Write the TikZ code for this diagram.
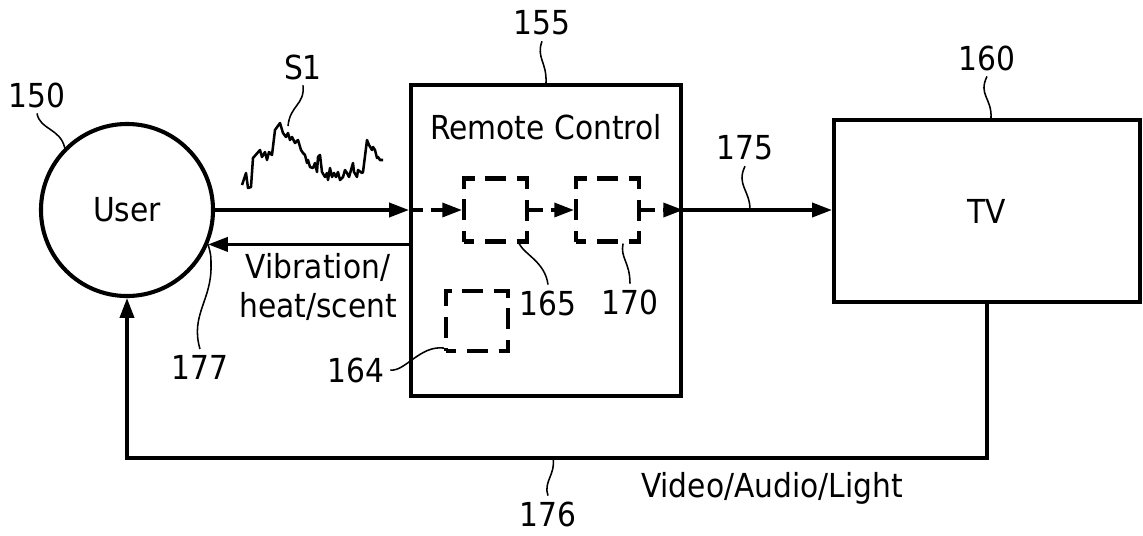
\documentclass[tikz,border=0pt]{standalone}
\usepackage{fontspec}
\setmainfont{DejaVu Sans Condensed}
\usetikzlibrary{arrows.meta, calc}

\begin{document}
\begin{tikzpicture}[
    x=0.025cm, y=-0.025cm,
    every node/.style={font=\fontsize{23.5}{28}\selectfont},
    block/.style={
      rectangle, draw=black, line width=2.9pt,
      inner sep=0pt
    },
    dbox/.style={
      rectangle, draw=black, line width=2.9pt,
      dash pattern=on 14.9pt off 7.5pt, dash phase=7.45pt,
      minimum width=1.575cm, minimum height=1.575cm, inner sep=0pt
    },
    lbl/.style={inner sep=4pt},
    arr/.style={-{Triangle[length=14pt,width=10pt]}, line width=2.3pt},
    darr/.style={arr, dash pattern=on 10pt off 5.5pt},
    leader/.style={line width=1.1pt},
    signal/.style={line width=1.8pt, line join=round}
  ]
    \useasboundingbox (0,0) rectangle (1143,535);

    \node[circle, draw=black, line width=2.9pt, minimum size=4.3cm,
          inner sep=0pt] (user) at (127,210) {User};
    \node[block, minimum width=6.75cm, minimum height=7.775cm] (rc)
      at (546,240.5) {};
    \node (rctitle) at (546,127) {Remote Control};
    \node[block, minimum width=7.65cm, minimum height=4.55cm] (tv)
      at (987,211) {TV};

    \node[dbox] (b165) at (495.5,210) {};
    \node[dbox] (b170) at (607.5,210) {};
    \node[dbox, minimum width=1.55cm, minimum height=1.5cm] (b164)
      at (477,321) {};

    \node[align=center] (vib) at (318,287) {Vibration/\\heat/scent};
    \node (vid) at (772,488) {Video/Audio/Light};

    \node[lbl] (t150) at (37,95) {150};
    \node[lbl] (t155) at (542,23) {155};
    \node[lbl] (t160) at (987,58) {160};
    \node[lbl] (t175) at (745,148) {175};
    \node[lbl] (t165) at (548,303) {165};
    \node[lbl] (t170) at (630,302) {170};
    \node[lbl] (t164) at (356,370) {164};
    \node[lbl] (t177) at (200,367) {177};
    \node[lbl] (t176) at (548,514) {176};
    \node[lbl] (tS1) at (303,67) {S1};

    \coordinate (s1peak) at (288,126);
    \coordinate (ret) at (user.south |- 0,458);
    \coordinate (c176) at (553,458);
    \coordinate (c175) at ($(rc.east |- b170.east)!0.45!(tv.west |- b170.east)$);

    \draw[signal] plot coordinates {
      (242,185) (246,173) (248,188) (251,187) (253,158) (260,150)
      (262,157) (265,152) (267,160) (269,152) (272,155) (275,130)
      (280,123) (283,133) (286,137) (288,133) (290,140) (292,137)
      (295,143) (298,140) (301,150) (303,153) (305,155) (307,163)
      (308,160) (310,167) (313,168) (315,163) (317,172) (318,157)
      (320,155) (322,172) (325,177) (327,173) (328,180) (330,168)
      (332,177) (334,173) (336,177) (338,172) (340,180) (343,177)
      (345,170) (347,173) (349,177) (351,170) (353,163) (354,172)
      (357,177) (358,170) (362,173) (363,172) (367,140) (369,145)
      (372,150) (373,147) (375,150) (377,158) (378,157) (380,160)
      (383,160)};

    \draw[arr]  (user.east) -- (rc.west |- user.east);
    \draw[darr] (rc.west |- user.east) -- (b165.west);
    \draw[darr] (b165.east) -- (b170.west);
    \draw[darr] (b170.east) -- (rc.east |- b170.east);
    \draw[arr]  (rc.east |- b170.east) -- (tv.west |- b170.east);
    \draw[arr]  (rc.west |- user.-23) -- (user.-23);
    \draw[arr]  (tv.south) |- (ret) -- (user.south);

    \draw[leader] (t150.south) .. controls (40,130) and (60,128) .. (user.135);
    \draw[leader] (t155.south) .. controls (536,58) and (547,62) .. (rc.north);
    \draw[leader] (t160.south) .. controls (978,95) and (992,98) .. ($(tv.north)+(4,0)$);
    \draw[leader] (t175.south) .. controls (736,185) and (750,190) .. (c175);
    \draw[leader] (t165.north) .. controls (545,262) and (525,255) .. ($(b165.south east)+(-10,0)$);
    \draw[leader] (t170.north) .. controls (630,262) and (620,258) .. ($(b170.south east)+(-18,0)$);
    \draw[leader] (t164.east) .. controls (405,372) and (420,345) .. ($(b164.south west)+(0,-5)$);
    \draw[leader] (t177.north) .. controls (190,315) and (212,300) .. (211,265)
      .. controls (211,255) .. (user.-23);
    \draw[leader] (t176.north) .. controls (543,482) and (556,474) .. (c176);
    \draw[leader] (tS1.south) .. controls (305,105) and (290,105) .. (s1peak);
  \end{tikzpicture}
\end{document}
